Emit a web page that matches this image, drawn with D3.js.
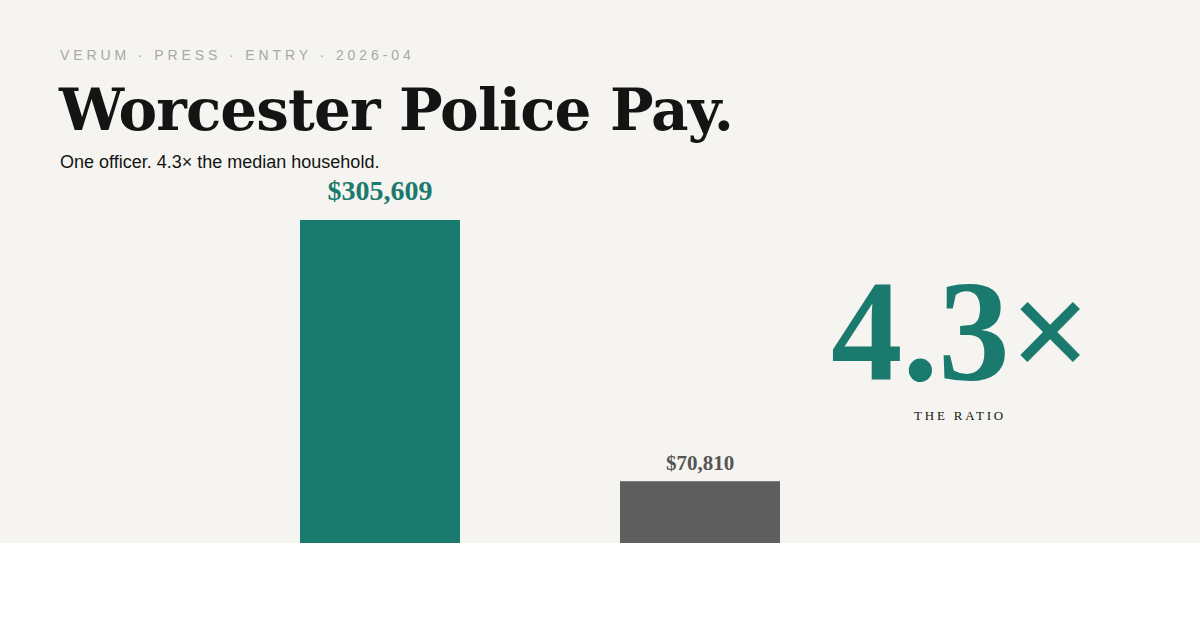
<!DOCTYPE html>
<html>
<head>
<meta charset="utf-8">
<script src="https://cdn.jsdelivr.net/npm/d3@7"></script>
<style>
  body { margin: 0; background: #ffffff; }
  #chart svg { display: block; }
</style>
</head>
<body>
<div id="chart"></div>
<script>
// data
const categories = ["Worcester police officer", "Median household"];
const values = [305609, 70810];
const barColors = ["#1b7a6e", "#5e5e5e"];
const ratioLabel = "4.3×";

const w = 1200;
const h = 543; // the beige panel, bars run past its bottom edge

const svg = d3.select("#chart")
              .append("svg")
              .attr("width", w)
              .attr("height", h);

svg.append("rect")
   .attr("width", w)
   .attr("height", h)
   .attr("fill", "#f5f4f0");

// header texts
svg.append("text")
   .attr("x", 60).attr("y", 60)
   .attr("font-family", "Liberation Sans, Arial, sans-serif")
   .attr("font-size", 14)
   .attr("letter-spacing", 3.9)
   .attr("fill", "#a8a8a6")
   .text("VERUM · PRESS · ENTRY · 2026-04");

svg.append("text")
   .attr("x", 59).attr("y", 130)
   .attr("font-family", "DejaVu Serif, Georgia, serif")
   .attr("font-weight", "bold")
   .attr("font-size", 58)
   .attr("letter-spacing", -0.9)
   .attr("fill", "#141414")
   .text("Worcester Police Pay.");

svg.append("text")
   .attr("x", 60).attr("y", 168)
   .attr("font-family", "Liberation Sans, Arial, sans-serif")
   .attr("font-size", 18)
   .attr("fill", "#141414")
   .text("One officer. 4.3× the median household.");

// scales
const xScale = d3.scaleBand()
                 .domain(categories)
                 .range([220, 860])
                 .paddingInner(0.5)
                 .paddingOuter(0.25);
const yScale = d3.scaleLinear()
                 .domain([0, d3.max(values)])
                 .range([560, 220]);

const data = categories.map((c, i) => ({cat: c, val: values[i], color: barColors[i]}));

svg.selectAll("rect.bar")
   .data(data)
   .enter()
   .append("rect")
   .attr("class", "bar")
   .attr("x", d => xScale(d.cat))
   .attr("y", d => yScale(d.val))
   .attr("width", xScale.bandwidth())
   .attr("height", d => yScale(0) - yScale(d.val))
   .attr("fill", d => d.color);

svg.selectAll("text.val")
   .data(data)
   .enter()
   .append("text")
   .attr("class", "val")
   .attr("x", d => xScale(d.cat) + xScale.bandwidth() / 2)
   .attr("y", (d, i) => yScale(d.val) - (i == 0 ? 20 : 11))
   .attr("text-anchor", "middle")
   .attr("font-family", "Liberation Serif, Times New Roman, serif")
   .attr("font-weight", "bold")
   .attr("font-size", (d, i) => i == 0 ? 28 : 21)
   .attr("fill", (d, i) => i == 0 ? d.color : "#555555")
   .text(d => "$" + d3.format(",")(d.val));

// big ratio callout
svg.append("text")
   .attr("x", 961).attr("y", 380)
   .attr("text-anchor", "middle")
   .attr("font-family", "Liberation Serif, Times New Roman, serif")
   .attr("font-weight", "bold")
   .attr("font-size", 143)
   .attr("fill", "#1b7a6e")
   .text(ratioLabel);

svg.append("text")
   .attr("x", 960).attr("y", 420)
   .attr("text-anchor", "middle")
   .attr("font-family", "Liberation Serif, Times New Roman, serif")
   .attr("font-size", 13)
   .attr("letter-spacing", 2.8)
   .attr("fill", "#141414")
   .text("THE RATIO");
</script>
</body>
</html>
